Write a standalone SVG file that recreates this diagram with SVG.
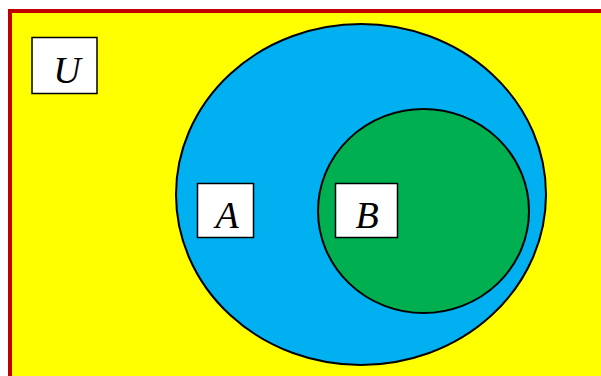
<svg xmlns="http://www.w3.org/2000/svg" width="601" height="376" viewBox="0 0 601 376">
<style>
.lbl{fill:#fff;stroke:#000;stroke-width:1.5}
.t{font-family:"Liberation Serif",serif;font-style:italic;font-size:38px;fill:#000;text-anchor:middle}
</style>
<rect x="10" y="11" width="600" height="380" fill="#ffff00" stroke="#c00000" stroke-width="4"/>
<g id="U"><rect class="lbl" x="32" y="37.5" width="65" height="56"/><text class="t" x="67" y="83">U</text></g>
<g id="setA"><ellipse cx="361" cy="194.5" rx="185" ry="170.5" fill="#00b0f0" stroke="#000" stroke-width="2"/></g>
<g id="setB"><ellipse cx="423.5" cy="211" rx="105.5" ry="102" fill="#00b050" stroke="#000" stroke-width="2"/></g>
<g id="A"><rect class="lbl" x="197.5" y="183.5" width="56" height="54"/><text class="t" x="227" y="228">A</text></g>
<g id="B"><rect class="lbl" x="335.5" y="183.5" width="62" height="54"/><text class="t" x="367" y="228">B</text></g>
<g id="connectors"/>
</svg>
